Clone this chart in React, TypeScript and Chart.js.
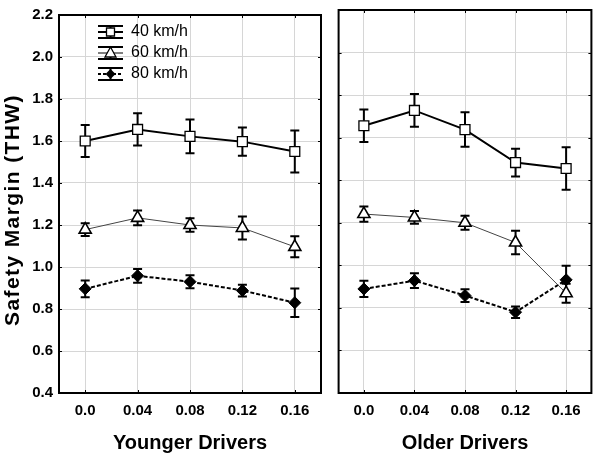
import React, { useEffect, useRef } from "react";
import { Chart, registerables } from "chart.js";

Chart.register(...registerables);

const categories = ["0.0", "0.04", "0.08", "0.12", "0.16"];
const seriesNames = ["40 km/h", "60 km/h", "80 km/h"];
const yTitle = "Safety Margin (THW)";

const young40 = [1.6, 1.655, 1.622, 1.597, 1.55];
const young40Err = [0.076, 0.077, 0.08, 0.067, 0.1];
const young60 = [1.178, 1.234, 1.2, 1.186, 1.096];
const young60Err = [0.03, 0.035, 0.032, 0.055, 0.05];
const young80 = [0.896, 0.958, 0.93, 0.888, 0.83];
const young80Err = [0.04, 0.033, 0.031, 0.028, 0.068];

const old40 = [1.656, 1.728, 1.638, 1.483, 1.455];
const old40Err = [0.076, 0.077, 0.081, 0.065, 0.1];
const old60 = [1.241, 1.225, 1.2, 1.107, 0.869];
const old60Err = [0.036, 0.03, 0.033, 0.055, 0.045];
const old80 = [0.889, 0.928, 0.858, 0.78, 0.932];
const old80Err = [0.038, 0.035, 0.03, 0.027, 0.066];

const FONT = "Arial, 'Liberation Sans', sans-serif";

function makeDatasets(v40: number[], e40: number[], v60: number[], e60: number[], v80: number[], e80: number[]) {
  return [
    {
      label: seriesNames[0],
      data: v40,
      errors: e40,
      borderColor: "#000",
      borderWidth: 2,
      pointStyle: "rect",
      pointRadius: 7,
      pointBorderWidth: 1.3,
      pointBackgroundColor: "#fff",
      pointBorderColor: "#000",
      tension: 0,
    },
    {
      label: seriesNames[1],
      data: v60,
      errors: e60,
      borderColor: "#444",
      borderWidth: 1,
      pointStyle: "triangle",
      pointRadius: 7,
      pointBorderWidth: 1.6,
      pointBackgroundColor: "#fff",
      pointBorderColor: "#000",
      tension: 0,
    },
    {
      label: seriesNames[2],
      data: v80,
      errors: e80,
      borderColor: "#000",
      borderWidth: 2,
      borderDash: [4, 2],
      pointStyle: "rectRot",
      pointRadius: 6,
      pointBorderWidth: 1,
      pointBackgroundColor: "#000",
      pointBorderColor: "#000",
      tension: 0,
    },
  ];
}

const errorBarPlugin = {
  id: "errorBars",
  beforeDatasetsDraw(chart: any) {
    const ctx = chart.ctx;
    const y = chart.scales.y;
    ctx.save();
    ctx.strokeStyle = "#000";
    ctx.lineWidth = 2;
    chart.data.datasets.forEach((ds: any, di: number) => {
      const meta = chart.getDatasetMeta(di);
      ds.data.forEach((v: number, i: number) => {
        const e = ds.errors[i];
        const px = meta.data[i].x;
        const top = y.getPixelForValue(v + e);
        const bot = y.getPixelForValue(v - e);
        ctx.beginPath();
        ctx.moveTo(px, top);
        ctx.lineTo(px, bot);
        ctx.moveTo(px - 4.5, top);
        ctx.lineTo(px + 4.5, top);
        ctx.moveTo(px - 4.5, bot);
        ctx.lineTo(px + 4.5, bot);
        ctx.stroke();
      });
    });
    ctx.restore();
  },
};

const framePlugin = {
  id: "frame",
  afterDraw(chart: any) {
    const ctx = chart.ctx;
    const a = chart.chartArea;
    const xs = chart.scales.x;
    const ys = chart.scales.y;
    ctx.save();
    ctx.strokeStyle = "#000";
    ctx.lineWidth = 1;
    ctx.beginPath();
    ys.ticks.forEach((t: any) => {
      const py = Math.round(ys.getPixelForValue(t.value)) + 0.5;
      ctx.moveTo(a.left, py);
      ctx.lineTo(a.left + 3, py);
      ctx.moveTo(a.right, py);
      ctx.lineTo(a.right - 3, py);
    });
    xs.ticks.forEach((_t: any, i: number) => {
      const px = Math.round(xs.getPixelForTick(i)) + 0.5;
      ctx.moveTo(px, a.bottom);
      ctx.lineTo(px, a.bottom - 3);
      ctx.moveTo(px, a.top);
      ctx.lineTo(px, a.top + 3);
    });
    ctx.stroke();
    ctx.lineWidth = 2;
    ctx.strokeRect(a.left, a.top, a.right - a.left, a.bottom - a.top);
    ctx.restore();
  },
};

const yTitlePlugin = {
  id: "yTitle",
  afterDraw(chart: any) {
    const ctx = chart.ctx;
    const a = chart.chartArea;
    ctx.save();
    ctx.translate(13, (a.top + a.bottom) / 2 + 6);
    ctx.rotate(-Math.PI / 2);
    ctx.font = `bold 21px ${FONT}`;
    (ctx as any).letterSpacing = "1.4px";
    ctx.fillStyle = "#000";
    ctx.textAlign = "center";
    ctx.textBaseline = "middle";
    ctx.fillText(yTitle, 0, 0);
    ctx.restore();
  },
};

const legendPlugin = {
  id: "customLegend",
  afterDraw(chart: any) {
    const ctx = chart.ctx;
    const a = chart.chartArea;
    const x0 = a.left + 39;
    const x1 = x0 + 25;
    const cx = (x0 + x1) / 2;
    const rows = [a.top + 17, a.top + 38, a.top + 59];
    ctx.save();
    rows.forEach((ry, i) => {
      ctx.strokeStyle = "#000";
      ctx.lineWidth = 2;
      ctx.setLineDash([]);
      ctx.beginPath();
      ctx.moveTo(x0, ry - 6);
      ctx.lineTo(x1, ry - 6);
      ctx.moveTo(x0, ry + 6);
      ctx.lineTo(x1, ry + 6);
      ctx.moveTo(cx, ry - 6);
      ctx.lineTo(cx, ry + 6);
      ctx.stroke();
      ctx.beginPath();
      if (i === 2) ctx.setLineDash([3, 2]);
      ctx.lineWidth = i === 1 ? 1 : 2;
      ctx.moveTo(x0, ry);
      ctx.lineTo(x1, ry);
      ctx.stroke();
      ctx.setLineDash([]);
      ctx.lineWidth = 1.3;
      ctx.beginPath();
      if (i === 0) {
        ctx.fillStyle = "#fff";
        ctx.rect(cx - 4, ry - 4, 8, 8);
        ctx.fill();
        ctx.stroke();
      } else if (i === 1) {
        ctx.fillStyle = "#fff";
        ctx.moveTo(cx, ry - 6);
        ctx.lineTo(cx + 5.5, ry + 4);
        ctx.lineTo(cx - 5.5, ry + 4);
        ctx.closePath();
        ctx.fill();
        ctx.stroke();
      } else {
        ctx.fillStyle = "#000";
        ctx.moveTo(cx, ry - 5);
        ctx.lineTo(cx + 5, ry);
        ctx.lineTo(cx, ry + 5);
        ctx.lineTo(cx - 5, ry);
        ctx.closePath();
        ctx.fill();
      }
      ctx.fillStyle = "#000";
      ctx.font = `16px ${FONT}`;
      ctx.textBaseline = "middle";
      ctx.textAlign = "left";
      ctx.fillText(seriesNames[i], x1 + 8, ry);
    });
    ctx.restore();
  },
};

function buildOptions(isLeft: boolean, title: string): any {
  return {
    responsive: false,
    animation: false,
    layout: { padding: { top: 10, right: isLeft ? 9 : 3, left: 0, bottom: 0 } },
    plugins: { legend: { display: false }, tooltip: { enabled: false } },
    scales: {
      x: {
        type: "category",
        offset: true,
        grid: { offset: false, color: "#d6d6d6", lineWidth: 1, drawTicks: false },
        border: { display: false },
        ticks: { color: "#000", font: { family: FONT, size: 15, weight: "bold" }, padding: 9 },
        title: {
          display: true,
          text: title,
          color: "#000",
          font: { family: FONT, size: 20, weight: "bold" },
          padding: 0,
        },
        afterFit(scale: any) {
          scale.height = 62;
        },
      },
      y: {
        min: 0.4,
        max: 2.2,
        grid: { color: "#d6d6d6", lineWidth: 1, drawTicks: false },
        border: { display: false },
        ticks: {
          display: isLeft,
          stepSize: 0.2,
          color: "#000",
          padding: 6,
          font: { family: FONT, size: 15, weight: "bold" },
          callback: (v: number) => v.toFixed(1),
        },
        title: { display: false },
        afterFit(scale: any) {
          scale.width = isLeft ? 59 : 7;
        },
      },
    },
  };
}

export default function App() {
  const leftRef = useRef<HTMLCanvasElement>(null);
  const rightRef = useRef<HTMLCanvasElement>(null);

  useEffect(() => {
    const left = new Chart(leftRef.current as HTMLCanvasElement, {
      type: "line",
      data: {
        labels: categories,
        datasets: makeDatasets(young40, young40Err, young60, young60Err, young80, young80Err) as any,
      },
      options: buildOptions(true, "Younger Drivers"),
      plugins: [errorBarPlugin, framePlugin, legendPlugin, yTitlePlugin],
    });
    const right = new Chart(rightRef.current as HTMLCanvasElement, {
      type: "line",
      data: {
        labels: categories,
        datasets: makeDatasets(old40, old40Err, old60, old60Err, old80, old80Err) as any,
      },
      options: buildOptions(false, "Older Drivers"),
      plugins: [errorBarPlugin, framePlugin],
    });
    return () => {
      left.destroy();
      right.destroy();
    };
  }, []);

  return (
    <div style={{ position: "fixed", left: 0, top: 0, width: 600, height: 455, background: "#fff" }}>
      <canvas ref={leftRef} width={330} height={455} style={{ position: "absolute", left: 0, top: 0 }} />
      <canvas ref={rightRef} width={270} height={455} style={{ position: "absolute", left: 330, top: 0 }} />
    </div>
  );
}
